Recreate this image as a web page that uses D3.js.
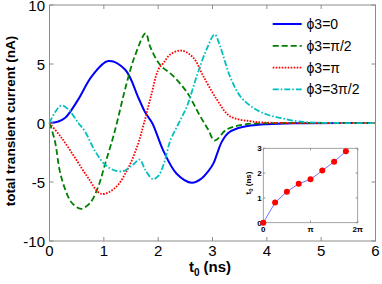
<!DOCTYPE html>
<html>
<head>
<meta charset="utf-8">
<style>
  body { margin: 0; background: #fff; }
  svg { display: block; font-family: Arial, "Liberation Sans", sans-serif; }
</style>
</head>
<body>
<svg id="chart" width="382" height="284"></svg>

<script src="https://d3js.org/d3.v7.min.js"></script>
<script>
    // values
    var tBlue = [0, 0.15, 0.29, 0.53, 0.78, 1.08, 1.39, 1.64, 1.76, 1.89, 2.10, 2.34, 2.62, 2.80, 2.92, 3.02, 3.10, 3.17, 3.29, 3.45, 3.7, 4.0, 4.5, 6]
    var vBlue = [0, 0.1, 0.44, 2.0, 3.97, 5.25, 4.53, 2.1, 0.9, 0, -2.4, -4.3, -5.07, -4.7, -4.1, -3.4, -2.4, -1.6, -0.85, -0.47, -0.22, -0.1, -0.02, 0]

    var tGreen = [0, 0.10, 0.19, 0.29, 0.41, 0.58, 0.75, 0.90, 1.02, 1.15, 1.24, 1.39, 1.57, 1.77, 1.85, 2.03, 2.28, 2.53, 2.77, 2.92, 3.04, 3.26, 3.57, 4.0, 6]
    var vGreen = [0, -1.54, -4.08, -5.64, -6.76, -7.27, -6.76, -5.36, -3.52, -1.54, 0, 2.84, 5.66, 7.6, 6.5, 4.96, 3.97, 2.6, 0.6, -0.55, -1.48, -0.55, -0.13, -0.02, 0]

    var tRed = [0, 0.22, 0.47, 0.71, 0.95, 1.21, 1.45, 1.62, 1.74, 1.88, 2.0, 2.1, 2.22, 2.43, 2.65, 2.83, 3.08, 3.32, 3.69, 4.0, 6]
    var vRed = [0, -1.25, -2.95, -4.64, -6.0, -5.49, -3.8, -1.9, 0, 2.5, 4.5, 5.1, 5.8, 6.14, 5.52, 3.97, 1.99, 0.58, 0.15, 0.03, 0]

    var tCyan = [0, 0.1, 0.22, 0.35, 0.53, 0.65, 0.84, 1.02, 1.21, 1.36, 1.54, 1.66, 1.76, 1.90, 2.0, 2.10, 2.22, 2.38, 2.53, 2.71, 2.89, 3.04, 3.14, 3.32, 3.51, 3.75, 4.0, 4.24, 4.55, 4.9, 6]
    var vCyan = [0, 0.9, 1.48, 1.14, 0, -0.69, -2.39, -3.52, -4.03, -4.08, -3.52, -3.1, -3.94, -4.75, -4.5, -3.52, -1.54, 0, 1.42, 3.97, 6.23, 7.5, 6.5, 3.97, 2.27, 1.29, 0.72, 0.44, 0.15, 0.03, 0]

    var legendLabels = ["\u03d53=0", "\u03d53=\u03c0/2", "\u03d53=\u03c0", "\u03d53=3\u03c0/2"]
    var xTicks = [0, 1, 2, 3, 4, 5, 6]
    var yTicks = [-10, -5, 0, 5, 10]

    // inset: t0 against phi3
    var insetPhi = [0, 0.25, 0.5, 0.75, 1, 1.25, 1.5, 1.75]   // in units of pi
    var insetT0 = [0, 0.81, 1.25, 1.57, 1.75, 2.1, 2.46, 2.88]
    var insetYTicks = [0, 1, 2, 3]
    var insetXTicks = [0, 1, 2]
    var insetXLabels = ["0", "\u03c0", "2\u03c0"]

    var series = [
        {t: tBlue, v: vBlue, color: "#0000ff", dash: null, w: 2},
        {t: tGreen, v: vGreen, color: "#008000", dash: "6,3", w: 1.8},
        {t: tRed, v: vRed, color: "#ff0000", dash: "1.6,1.4", w: 1.8},
        {t: tCyan, v: vCyan, color: "#00bfbf", dash: "6,2,1.6,2", w: 1.8}
    ]

    var svg = d3.select("#chart")
    var frame = "#8c8c8c"

    var x = d3.scaleLinear().domain([0, 6]).range([49.5, 375.5])
    var y = d3.scaleLinear().domain([-10, 10]).range([241, 5])

    var plot = svg.append("g")

    // curves
    var line = d3.line()
        .x(function(d) { return x(d[0]) })
        .y(function(d) { return y(d[1]) })
        .curve(d3.curveCatmullRom.alpha(0.5))

    series.forEach(function(s) {
        plot.append("path")
            .datum(d3.zip(s.t, s.v))
            .attr("d", line)
            .attr("fill", "none")
            .attr("stroke", s.color)
            .attr("stroke-width", s.w)
            .attr("stroke-dasharray", s.dash)
    })

    // frame with inward ticks on all four sides
    plot.append("rect")
        .attr("x", x(0)).attr("y", y(10))
        .attr("width", x(6) - x(0)).attr("height", y(-10) - y(10))
        .attr("fill", "none").attr("stroke", frame)

    var tl = 4
    xTicks.forEach(function(d) {
        plot.append("line").attr("x1", x(d)).attr("x2", x(d)).attr("y1", y(-10)).attr("y2", y(-10) - tl).attr("stroke", frame)
        plot.append("line").attr("x1", x(d)).attr("x2", x(d)).attr("y1", y(10)).attr("y2", y(10) + tl).attr("stroke", frame)
        plot.append("text").attr("x", x(d)).attr("y", 256).attr("text-anchor", "middle")
            .attr("font-size", 15).text(d)
    })
    yTicks.forEach(function(d) {
        plot.append("line").attr("x1", x(0)).attr("x2", x(0) + tl).attr("y1", y(d)).attr("y2", y(d)).attr("stroke", frame)
        plot.append("line").attr("x1", x(6)).attr("x2", x(6) - tl).attr("y1", y(d)).attr("y2", y(d)).attr("stroke", frame)
        plot.append("text").attr("x", 45).attr("y", y(d) + 5.5).attr("text-anchor", "end")
            .attr("font-size", 15).text(d)
    })

    // axis labels
    var xl = svg.append("text").attr("x", 210).attr("y", 272).attr("text-anchor", "middle")
        .attr("font-size", 15).attr("font-weight", "bold")
    xl.append("tspan").text("t")
    xl.append("tspan").attr("font-size", 10).attr("dy", 4).text("0")
    xl.append("tspan").attr("dy", -4).text(" (ns)")

    svg.append("text").attr("transform", "translate(15,121) rotate(-90)")
        .attr("text-anchor", "middle").attr("font-size", 13.5).attr("font-weight", "bold")
        .text("total transient current (nA)")

    // legend
    var lg = svg.append("g")
    series.forEach(function(s, i) {
        var ly = 24 + i * 21.8
        lg.append("line").attr("x1", 272.7).attr("x2", 301.7).attr("y1", ly).attr("y2", ly)
            .attr("stroke", s.color).attr("stroke-width", s.w).attr("stroke-dasharray", s.dash)
        lg.append("text").attr("x", 306.5).attr("y", ly + 5).attr("font-size", 14).text(legendLabels[i])
    })

    // inset
    var ix = d3.scaleLinear().domain([0, 2]).range([263.3, 357.7])
    var iy = d3.scaleLinear().domain([0, 3]).range([222.7, 148.3])
    var inset = svg.append("g")

    inset.append("rect")
        .attr("x", ix(0)).attr("y", iy(3))
        .attr("width", ix(2) - ix(0)).attr("height", iy(0) - iy(3))
        .attr("fill", "#fff").attr("stroke", frame).attr("stroke-width", 0.8)

    insetXTicks.forEach(function(d, i) {
        inset.append("line").attr("x1", ix(d)).attr("x2", ix(d)).attr("y1", iy(0)).attr("y2", iy(0) - 2).attr("stroke", frame)
        inset.append("line").attr("x1", ix(d)).attr("x2", ix(d)).attr("y1", iy(3)).attr("y2", iy(3) + 2).attr("stroke", frame)
        inset.append("text").attr("x", ix(d)).attr("y", iy(0) + 9).attr("text-anchor", "middle")
            .attr("font-size", 8).attr("font-weight", "bold").text(insetXLabels[i])
    })
    insetYTicks.forEach(function(d) {
        inset.append("line").attr("x1", ix(0)).attr("x2", ix(0) + 2).attr("y1", iy(d)).attr("y2", iy(d)).attr("stroke", frame)
        inset.append("line").attr("x1", ix(2)).attr("x2", ix(2) - 2).attr("y1", iy(d)).attr("y2", iy(d)).attr("stroke", frame)
        inset.append("text").attr("x", ix(0) - 1.5).attr("y", iy(d) + 3).attr("text-anchor", "end")
            .attr("font-size", 8).attr("font-weight", "bold").text(d)
    })

    var il = inset.append("text").attr("transform", "translate(251," + iy(1.6) + ") rotate(-90)")
        .attr("text-anchor", "middle").attr("font-size", 8).attr("font-weight", "bold")
    il.append("tspan").text("t")
    il.append("tspan").attr("font-size", 6).attr("dy", 2).text("0")
    il.append("tspan").attr("dy", -2).text(" (ns)")

    var insetPts = d3.zip(insetPhi, insetT0)
    inset.append("path")
        .datum(insetPts)
        .attr("d", d3.line().x(function(d) { return ix(d[0]) }).y(function(d) { return iy(d[1]) }))
        .attr("fill", "none").attr("stroke", "#7070ff").attr("stroke-width", 1)

    inset.selectAll("circle")
        .data(insetPts)
        .enter().append("circle")
            .attr("cx", function(d) { return ix(d[0]) })
            .attr("cy", function(d) { return iy(d[1]) })
            .attr("r", 3)
            .attr("fill", "#ff0000")
</script>
</body>
</html>
